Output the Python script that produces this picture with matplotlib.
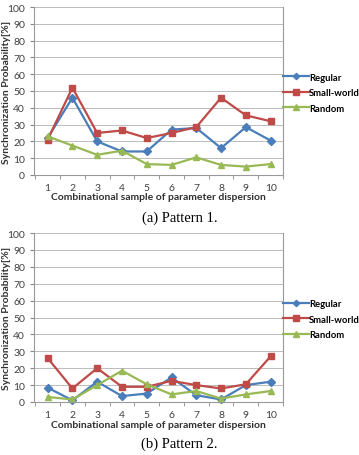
import numpy as np
import matplotlib.pyplot as plt

samples = list(range(1, 11))
series_names = ['Regular', 'Small-world', 'Random']

p1_regular = [22, 46, 20, 14, 14, 27, 28, 16, 28.5, 20.5]
p1_small = [21, 52, 25, 26.5, 22, 25, 28.5, 46, 35.5, 32]
p1_random = [23, 17.5, 12, 14.5, 6.5, 6, 10.5, 6, 5, 6.5]

p2_regular = [8.5, 1, 12, 3.5, 5, 14.5, 4, 1.5, 10, 12]
p2_small = [26, 8, 20, 9, 9, 12.5, 10, 8, 10.5, 27]
p2_random = [3, 1.5, 10, 18.5, 10.5, 4.5, 6.5, 2, 4.5, 6.5]

colors = ['#4A7EBB', '#BE4B48', '#98B954']
markers = ['D', 's', '^']
msizes = [4, 5, 5]

plt.rcParams['font.family'] = ['Lato', 'DejaVu Sans']

W, H = 359, 456
fig = plt.figure(figsize=(W / 100, H / 100), dpi=100)


def draw(ax, data, caption, xlab_y, cap_y):
    for vals, name, c, m, ms in zip(data, series_names, colors, markers, msizes):
        ax.plot(samples, vals, color=c, marker=m, markersize=ms, lw=1.6,
                label=name, clip_on=False)
    ax.set_xlim(0.45, 10.5)
    ax.set_ylim(0, 100)
    ax.set_yticks(range(0, 101, 10))
    ax.set_xticks(samples)
    ax.set_xticks(np.arange(0.5, 11, 1), minor=True)
    ax.tick_params(axis='x', which='major', length=0, labelsize=7.5, colors='#404040', pad=6)
    ax.tick_params(axis='x', which='minor', length=3, color='#888888')
    ax.tick_params(axis='y', length=3, color='#888888', labelsize=7.5, labelcolor='#404040')
    ax.grid(axis='y', color='#bbbbbb', lw=0.7)
    ax.set_axisbelow(True)
    ax.spines['top'].set_visible(False)
    for s in ['left', 'bottom', 'right']:
        ax.spines[s].set_color('#999999')
        ax.spines[s].set_linewidth(0.8)
    ax.set_ylabel('Synchronization Probability[%]', fontsize=7.5, fontweight='bold',
                  color='#303030')
    ax.yaxis.set_label_coords(-0.094, 0.5)
    fig.text(0.44, xlab_y / H, 'Combinational sample of parameter dispersion',
             ha='center', va='center', fontsize=7.5, fontweight='bold', color='#303030')
    fig.text(0.5, cap_y / H, caption, ha='center', va='center',
             family='Liberation Serif', fontsize=10.5)
    ax.legend(loc='center left', bbox_to_anchor=(1.0, 0.49), frameon=False,
              borderaxespad=0, borderpad=0, markerscale=0.8,
              handlelength=2.7, handletextpad=0.05, labelspacing=0.7,
              prop={'weight': 'bold', 'size': 6.8})


ax1 = fig.add_axes([34 / W, (H - 176) / H, 249 / W, 168 / H])
draw(ax1, [p1_regular, p1_small, p1_random], '(a) Pattern 1.', H - 198, H - 218)

ax2 = fig.add_axes([34 / W, (H - 403) / H, 249 / W, 169 / H])
draw(ax2, [p2_regular, p2_small, p2_random], '(b) Pattern 2.', H - 426, H - 444)

fig.savefig('out.png', dpi=100)
